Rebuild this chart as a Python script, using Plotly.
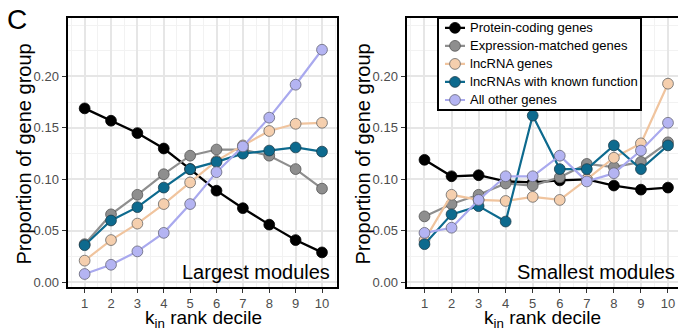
import plotly.graph_objects as go

# ---------------- data ----------------
deciles = [1, 2, 3, 4, 5, 6, 7, 8, 9, 10]
series_names = ["Protein-coding genes", "Expression-matched genes", "lncRNA genes",
                "lncRNAs with known function", "All other genes"]

# Largest modules
protein_L = [0.169, 0.157, 0.145, 0.130, 0.110, 0.089, 0.072, 0.056, 0.041, 0.029]
expr_L    = [0.037, 0.066, 0.085, 0.105, 0.123, 0.129, 0.129, 0.123, 0.110, 0.091]
lnc_L     = [0.021, 0.041, 0.057, 0.076, 0.097, 0.118, 0.133, 0.147, 0.154, 0.155]
known_L   = [0.036, 0.060, 0.073, 0.092, 0.110, 0.117, 0.125, 0.128, 0.131, 0.127]
other_L   = [0.008, 0.017, 0.030, 0.048, 0.076, 0.107, 0.132, 0.160, 0.192, 0.226]

# Smallest modules
protein_S = [0.119, 0.103, 0.104, 0.098, 0.097, 0.099, 0.100, 0.094, 0.090, 0.092]
expr_S    = [0.064, 0.076, 0.085, 0.096, 0.094, 0.102, 0.115, 0.112, 0.117, 0.136]
lnc_S     = [0.041, 0.085, 0.080, 0.079, 0.083, 0.080, 0.100, 0.121, 0.135, 0.193]
known_S   = [0.037, 0.066, 0.074, 0.059, 0.162, 0.110, 0.110, 0.133, 0.110, 0.133]
other_S   = [0.048, 0.053, 0.080, 0.103, 0.103, 0.123, 0.098, 0.106, 0.128, 0.155]

y_ticks = [0.00, 0.05, 0.10, 0.15, 0.20]
y_tick_labels = ["0.00", "0.05", "0.10", "0.15", "0.20"]

# ---------------- styles ----------------
line_colors = ["#000000", "#8e8e8e", "#f0c49e", "#0d6a8e", "#a9a9ee"]
marker_colors = ["#000000", "#8e8e8e", "#f5cfae", "#0d6a8e", "#b4b4f2"]
outline_colors = ["#000000", "#555555", "#666666", "#1d3d4d", "#666677"]

W, H = 678, 331
FONT = "Arial, Liberation Sans, sans-serif"

def px(x):
    return x / W

def py(y):
    return 1 - y / H

fig = go.Figure()

left_sets = [protein_L, expr_L, lnc_L, known_L, other_L]
right_sets = [protein_S, expr_S, lnc_S, known_S, other_S]

def line_style(i):
    return dict(color=line_colors[i], width=2.3 if i == 0 else 2.2)

def marker_style(i):
    return dict(size=10.8, color=marker_colors[i],
                line=dict(color=outline_colors[i], width=0.8))

for panel, sets in enumerate([left_sets, right_sets]):
    xa = "x" if panel == 0 else "x2"
    ya = "y" if panel == 0 else "y2"
    for i, vals in enumerate(sets):
        fig.add_trace(go.Scatter(
            x=deciles, y=vals, mode="lines+markers",
            name=series_names[i], showlegend=False,
            line=line_style(i), marker=marker_style(i),
            xaxis=xa, yaxis=ya, hoverinfo="x+y+name",
        ))

# ---------------- legend box (own small subplot, units = pixels) ----------------
LEG_L, LEG_R, LEG_T, LEG_B = 439, 640, 19, 110
leg_w = LEG_R - LEG_L
n_items = len(series_names)
# white background of the legend box
fig.add_trace(go.Scatter(
    x=[0, leg_w, leg_w, 0, 0], y=[0, 0, n_items, n_items, 0],
    mode="lines", fill="toself", fillcolor="white", line=dict(width=0),
    hoverinfo="skip", showlegend=False, xaxis="x3", yaxis="y3",
))
sym_x0, sym_x1, text_x = 6, 26, 29
for i, name in enumerate(series_names):
    row = i + 0.5
    fig.add_trace(go.Scatter(
        x=[sym_x0, sym_x1], y=[row, row], mode="lines",
        line=line_style(i), hoverinfo="skip", showlegend=False,
        xaxis="x3", yaxis="y3",
    ))
    fig.add_trace(go.Scatter(
        x=[(sym_x0 + sym_x1) / 2], y=[row], mode="markers",
        marker=marker_style(i), hoverinfo="skip", showlegend=False,
        xaxis="x3", yaxis="y3",
    ))

grid_major = "#e6e6e6"
grid_minor = "#f2f2f2"

common_x = dict(
    tickmode="array", tickvals=deciles, ticktext=[str(d) for d in deciles],
    showgrid=True, gridcolor=grid_major, gridwidth=1.6,
    minor=dict(dtick=0.5, tick0=0.5, showgrid=True, gridcolor=grid_minor, gridwidth=0.8),
    showline=True, linecolor="black", linewidth=2,
    ticks="outside", ticklen=4, tickcolor="#333333", tickwidth=1,
    tickfont=dict(family=FONT, size=13, color="#4d4d4d"),
    zeroline=False, fixedrange=True,
)
common_y = dict(
    tickmode="array", tickvals=y_ticks, ticktext=y_tick_labels,
    range=[-0.0045, 0.257],
    showgrid=True, gridcolor=grid_major, gridwidth=1.6,
    minor=dict(dtick=0.025, tick0=0.025, showgrid=True, gridcolor=grid_minor, gridwidth=0.8),
    showline=True, linecolor="black", linewidth=2,
    ticks="outside", ticklen=4, tickcolor="#333333", tickwidth=1,
    tickfont=dict(family=FONT, size=13, color="#4d4d4d"),
    zeroline=False, fixedrange=True,
    domain=[py(289.5), py(18)],
)
legend_axis = dict(showgrid=False, zeroline=False, showticklabels=False, ticks="",
                   showline=True, linecolor="black", linewidth=1.6, mirror=True,
                   fixedrange=True)

fig.update_layout(
    width=W, height=H,
    margin=dict(l=0, r=0, t=0, b=0),
    paper_bgcolor="white", plot_bgcolor="rgba(0,0,0,0)",
    font=dict(family=FONT, color="black"),
    xaxis=dict(common_x, domain=[px(67.5), px(336.5)], range=[0.35, 10.55],
               anchor="y", mirror=True),
    yaxis=dict(common_y, anchor="x", mirror=True),
    xaxis2=dict(common_x, domain=[px(406.5), 1.0], range=[0.335, 10.37],
                anchor="y2", mirror=True),
    yaxis2=dict(common_y, anchor="x2", mirror=False),
    xaxis3=dict(legend_axis, domain=[px(LEG_L), px(LEG_R)], range=[0, leg_w], anchor="y3"),
    yaxis3=dict(legend_axis, domain=[py(LEG_B), py(LEG_T)], range=[n_items, 0], anchor="x3"),
    showlegend=False,
    hovermode="closest",
)

annotations = [
    dict(text="C", x=px(17), y=py(20), font=dict(size=28, family=FONT, color="black")),
    dict(text="Proportion of gene group", x=px(24), y=py(156), textangle=-90,
         font=dict(size=20, family=FONT, color="black")),
    dict(text="Proportion of gene group", x=px(363), y=py(156), textangle=-90,
         font=dict(size=20, family=FONT, color="black")),
    dict(text="k<sub>in</sub> rank decile", x=px(203), y=py(322),
         font=dict(size=19, family=FONT, color="black")),
    dict(text="k<sub>in</sub> rank decile", x=px(542), y=py(322),
         font=dict(size=19, family=FONT, color="black")),
    dict(text="Largest modules", x=px(332), y=py(274), xanchor="right",
         font=dict(size=20, family=FONT, color="black")),
    dict(text="Smallest modules", x=px(677), y=py(274), xanchor="right",
         font=dict(size=20, family=FONT, color="black")),
]
for a in annotations:
    a.setdefault("xanchor", "center")
    a.update(xref="paper", yref="paper", showarrow=False, yanchor="middle")

for i, name in enumerate(series_names):
    annotations.append(dict(
        text=name, x=text_x, y=i + 0.5, xref="x3", yref="y3",
        xanchor="left", yanchor="middle", showarrow=False,
        font=dict(size=13, family=FONT, color="black"),
    ))
fig.update_layout(annotations=annotations)

fig.write_html("out.html",
               config={"displayModeBar": False},
               post_script="document.body.style.margin='0';document.body.style.overflow='hidden';")
